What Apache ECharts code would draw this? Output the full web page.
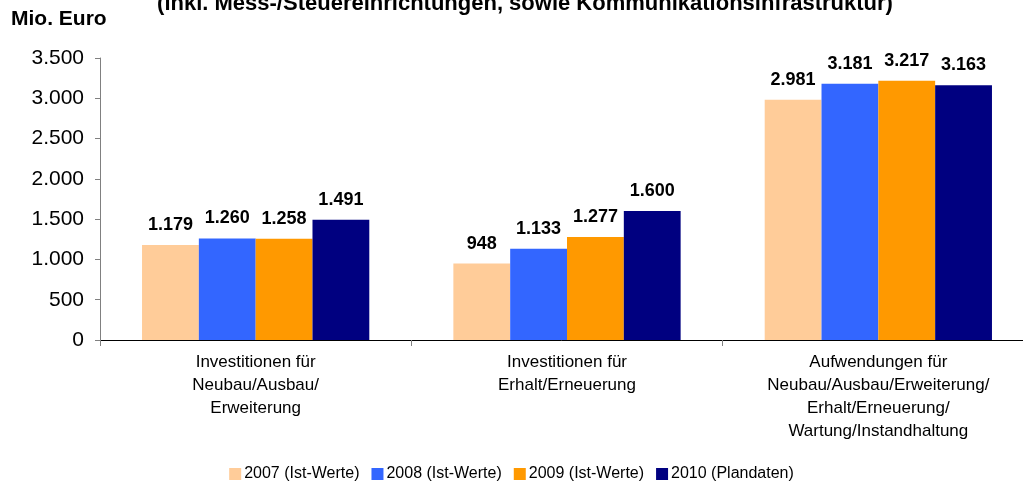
<!DOCTYPE html>
<html>
<head>
<meta charset="utf-8">
<script src="https://cdn.jsdelivr.net/npm/echarts@6/dist/echarts.min.js"></script>
<style>
  html, body { margin: 0; padding: 0; background: #fff; }
  #main { width: 1023px; height: 489px; }
</style>
</head>
<body>
<div id="main"></div>
<script>
// Kategorien und Werte (Mio. Euro)
var categories = [
  'Investitionen für\nNeubau/Ausbau/\nErweiterung',
  'Investitionen für\nErhalt/Erneuerung',
  'Aufwendungen für\nNeubau/Ausbau/Erweiterung/\nErhalt/Erneuerung/\nWartung/Instandhaltung'
];
var seriesNames = ['2007 (Ist-Werte)', '2008 (Ist-Werte)', '2009 (Ist-Werte)', '2010 (Plandaten)'];
var values2007 = [1179, 948, 2981];
var values2008 = [1260, 1133, 3181];
var values2009 = [1258, 1277, 3217];
var values2010 = [1491, 1600, 3163];
var colors = ['#FFCC99', '#3366FF', '#FF9900', '#000080'];

var font = '"Liberation Sans", Arial, sans-serif';

function fmt(v) {
  return String(v).replace(/\B(?=(\d{3})+(?!\d))/g, '.');
}

var allValues = [values2007, values2008, values2009, values2010];
var series = allValues.map(function (vals, i) {
  return {
    name: seriesNames[i],
    type: 'bar',
    data: vals,
    barGap: '0%',
    barCategoryGap: '27%',
    itemStyle: { color: colors[i] },
    label: {
      show: true,
      position: 'top',
      distance: 11,
      fontFamily: font,
      fontSize: 18,
      fontWeight: 'bold',
      color: '#000',
      formatter: function (p) { return fmt(p.value); }
    }
  };
});

var myChart = echarts.init(document.getElementById('main'));
var option = {
  animation: false,
  title: {
    text: '(inkl. Mess-/Steuereinrichtungen, sowie Kommunikationsinfrastruktur)',
    left: 520,
    textAlign: 'center',
    top: -12,
    textStyle: { fontFamily: font, fontSize: 22, fontWeight: 'bold', color: '#000' }
  },
  graphic: [{
    type: 'text',
    left: 11,
    top: 9,
    style: { text: 'Mio. Euro', fontFamily: font, fontSize: 21, fontWeight: 'bold', fill: '#000' }
  }],
  legend: {
    bottom: 2,
    left: 'center',
    itemWidth: 12,
    itemHeight: 12,
    itemGap: 12,
    icon: 'rect',
    textStyle: { fontFamily: font, fontSize: 16, color: '#000', padding: [0, 0, 0, -2] },
    data: seriesNames
  },
  grid: { left: 100, top: 58, width: 934, height: 282, outerBoundsMode: 'none', containLabel: false },
  xAxis: {
    type: 'category',
    data: categories,
    axisLine: { lineStyle: { color: '#000', width: 1 } },
    axisTick: { show: true, length: 6, lineStyle: { color: '#808080' } },
    axisLabel: {
      fontFamily: font, fontSize: 17, color: '#000', lineHeight: 23, margin: 11, interval: 0
    }
  },
  yAxis: {
    type: 'value',
    min: 0,
    max: 3500,
    interval: 500,
    splitLine: { show: false },
    axisLine: { show: true, lineStyle: { color: '#808080' } },
    axisTick: { show: true, length: 5, lineStyle: { color: '#808080' } },
    axisLabel: {
      fontFamily: font, fontSize: 21, color: '#000', margin: 16,
      formatter: function (v) { return fmt(v); }
    }
  },
  series: series
};
myChart.setOption(option);
</script>
</body>
</html>
